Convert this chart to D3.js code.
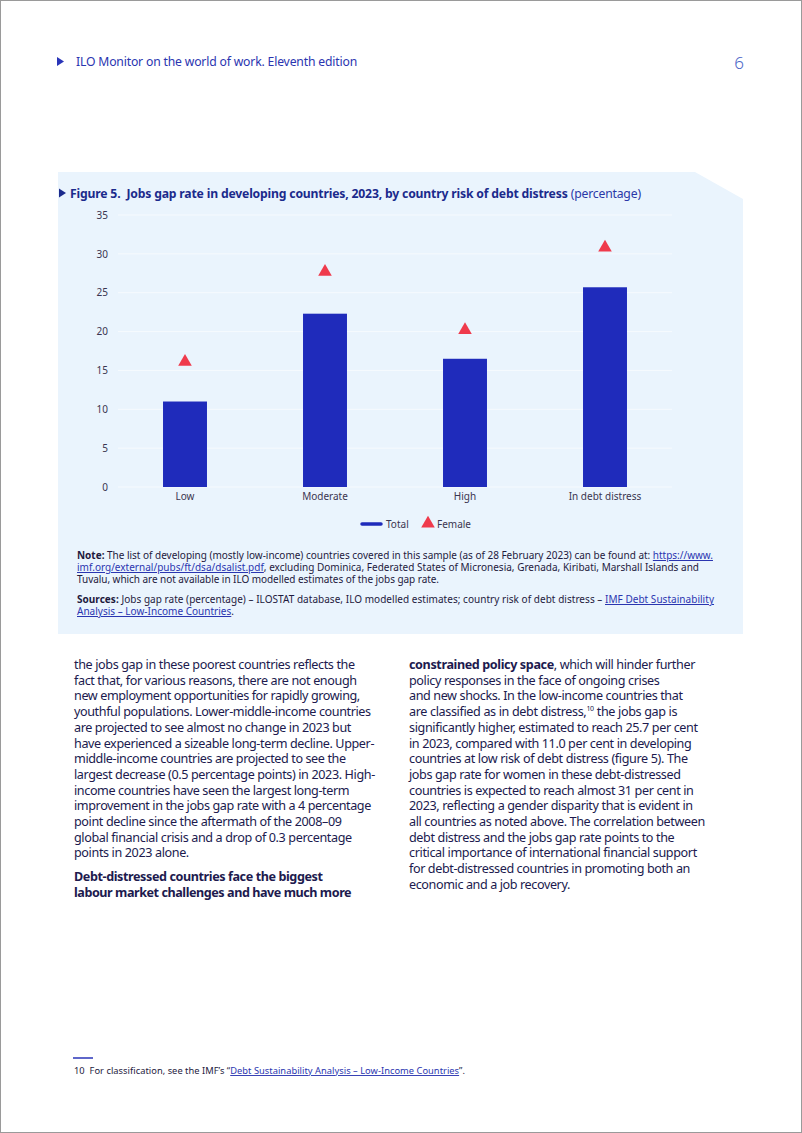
<!DOCTYPE html>
<html><head><meta charset="utf-8">
<script src="https://cdn.jsdelivr.net/npm/d3@7/dist/d3.min.js"></script>
<style>
html,body{margin:0;padding:0;background:#fff;}
svg{display:block;}
text{font-family:"Noto Sans",sans-serif;}
</style></head>
<body>
<svg id="page" width="802" height="1133"></svg>
<script>
const categories = ["Low", "Moderate", "High", "In debt distress"];
const totalValues = [11.0, 22.3, 16.5, 25.7];
const femaleValues = [16.1, 27.7, 20.2, 30.8];
const yTicks = [0, 5, 10, 15, 20, 25, 30, 35];
const legendLabels = ["Total", "Female"];

const svg = d3.select("#page");
const navy = "#1b2a8c", bodyCol = "#201a4e", noteCol = "#1e1a3e", linkCol = "#2a35b0";

// draw a line made of styled parts as separate text elements; the line is tightened
// with letter-spacing so it reaches width w (or a fixed ratio sc of its natural width).
function parts(parent, x0, yy, list, fs, fill, w, sc){
  const els = list.map(p=>{
    const lead = /^\s/.test(p.t);
    const txt = p.t.trim();
    const t = parent.append("text").attr("font-size",p.fs||fs).attr("fill",p.c||fill).text(txt);
    if(p.b) t.attr("font-weight",700);
    if(p.u) t.attr("fill",linkCol).attr("text-decoration","underline");
    return {t, len:txt.length, n:t.node().getComputedTextLength(), gap: lead ? (p.fs||fs)*0.26 : 0, dy:p.dy||0};
  });
  const tot = d3.sum(els, e=>e.n+e.gap);
  const chars = d3.sum(els, e=>e.len);
  const target = w ? w : tot*sc;
  const ls = (target - tot)/chars;
  let cx = x0;
  els.forEach(e=>{
    cx += e.gap*(target/tot);
    e.t.style("letter-spacing", ls+"px").attr("x",cx).attr("y",yy+e.dy);
    cx += e.t.node().getComputedTextLength();
  });
}

// page border
svg.append("rect").attr("x",0.5).attr("y",0.5).attr("width",801).attr("height",1132)
  .attr("fill","#fff").attr("stroke","#9a9a9a").attr("stroke-width",1);

// header
svg.append("path").attr("d","M57,57 L64,61.5 L57,66 Z").attr("fill","#2a35b8");
parts(svg, 76, 66, [{t:"ILO Monitor on the world of work. Eleventh edition"}], 12.2, "#2a35b0", 281);
svg.append("text").attr("x",744).attr("y",69).attr("font-size",17).attr("text-anchor","end")
  .attr("fill","#4d66c8").attr("font-weight",300).text("6");

// panel
svg.append("path").attr("d","M58,172 L695,172 L743,199 L743,634 L58,634 Z").attr("fill","#eaf4fd");

// title
svg.append("path").attr("d","M59,188.5 L66,193 L59,197.5 Z").attr("fill","#1b2a8c");
parts(svg, 70, 198, [
  {t:"Figure 5.\u00a0 Jobs gap rate in developing countries, 2023, by country risk of debt distress", b:1, c:navy},
  {t:" (percentage)", c:"#2a38a8"}], 12.2, navy, 571);

// chart
const x = d3.scaleBand().domain(categories).range([115, 675]).paddingInner(0.686).paddingOuter(0.343);
const y = d3.scaleLinear().domain([0, 35]).range([487, 215]);

svg.append("g").selectAll("line").data(yTicks).join("line")
  .attr("x1",118).attr("x2",672).attr("y1",d=>y(d)).attr("y2",d=>y(d))
  .attr("stroke","#f6fafe").attr("stroke-width",1);

const yAxis = svg.append("g").attr("transform","translate(110,0)")
  .call(d3.axisLeft(y).tickValues(yTicks).tickSize(0).tickPadding(2));
yAxis.select(".domain").remove();
yAxis.selectAll("text").attr("font-size",10).attr("fill","#3a3550").attr("font-family","Noto Sans");

const xAxis = svg.append("g").attr("transform","translate(0,491)")
  .call(d3.axisBottom(x).tickSize(0).tickPadding(2));
xAxis.select(".domain").remove();
xAxis.selectAll("text").attr("font-size",10).attr("fill","#3a3550").attr("font-family","Noto Sans");

svg.append("g").selectAll("rect").data(categories).join("rect")
  .attr("x",d=>x(d)).attr("width",x.bandwidth())
  .attr("y",(d,i)=>y(totalValues[i])).attr("height",(d,i)=>y(0)-y(totalValues[i]))
  .attr("fill","#1f2bbb");

const tri = d3.symbol().type(d3.symbolTriangle).size(80);
svg.append("g").selectAll("path").data(categories).join("path")
  .attr("transform",(d,i)=>`translate(${x(d)+x.bandwidth()/2},${y(femaleValues[i])})`)
  .attr("d",tri).attr("fill","#ef3a4c");

// legend
const lg = svg.append("g");
lg.append("line").attr("x1",362).attr("x2",381).attr("y1",524).attr("y2",524)
  .attr("stroke","#1f2bbb").attr("stroke-width",3.5).attr("stroke-linecap","round");
lg.append("text").attr("x",386).attr("y",527.5).attr("font-size",10).attr("fill","#3a3550").text(legendLabels[0]);
lg.append("path").attr("transform","translate(428,523.5)").attr("d",tri).attr("fill","#ef3a4c");
lg.append("text").attr("x",437).attr("y",527.5).attr("font-size",10).attr("fill","#3a3550").text(legendLabels[1]);

// notes
const nfs = 10;
parts(svg, 77, 559, [{t:"Note:",b:1},{t:" The list of developing (mostly low-income) countries covered in this sample (as of 28 February 2023) can be found at:"},{t:" https://www.",u:1}], nfs, noteCol, 636);
parts(svg, 77, 571, [{t:"imf.org/external/pubs/ft/dsa/dsalist.pdf",u:1},{t:", excluding Dominica, Federated States of Micronesia, Grenada, Kiribati, Marshall Islands and"}], nfs, noteCol, 622);
parts(svg, 77, 583, [{t:"Tuvalu, which are not available in ILO modelled estimates of the jobs gap rate."}], nfs, noteCol, 362);
parts(svg, 77, 603, [{t:"Sources:",b:1},{t:" Jobs gap rate (percentage) \u2013 ILOSTAT database, ILO modelled estimates; country risk of debt distress \u2013"},{t:" IMF Debt Sustainability",u:1}], nfs, noteCol, 637);
parts(svg, 77, 615, [{t:"Analysis \u2013 Low-Income Countries",u:1},{t:"."}], nfs, noteCol, 157);

// body text
const leftLines = [
 "the jobs gap in these poorest countries reflects the",
 "fact that, for various reasons, there are not enough",
 "new employment opportunities for rapidly growing,",
 "youthful populations. Lower-middle-income countries",
 "are projected to see almost no change in 2023 but",
 "have experienced a sizeable long-term decline. Upper-",
 "middle-income countries are projected to see the",
 "largest decrease (0.5 percentage points) in 2023. High-",
 "income countries have seen the largest long-term",
 "improvement in the jobs gap rate with a 4 percentage",
 "point decline since the aftermath of the 2008\u201309",
 "global financial crisis and a drop of 0.3 percentage",
 "points in 2023 alone."
];
const leftBold = ["Debt-distressed countries face the biggest","labour market challenges and have much more"];
const rightLines = [
 "policy responses in the face of ongoing crises",
 "and new shocks. In the low-income countries that",
 "are classified as in debt distress,",
 "significantly higher, estimated to reach 25.7 per cent",
 "in 2023, compared with 11.0 per cent in developing",
 "countries at low risk of debt distress (figure 5). The",
 "jobs gap rate for women in these debt-distressed",
 "countries is expected to reach almost 31 per cent in",
 "2023, reflecting a gender disparity that is evident in",
 "all countries as noted above. The correlation between",
 "debt distress and the jobs gap rate points to the",
 "critical importance of international financial support",
 "for debt-distressed countries in promoting both an",
 "economic and a job recovery."
];
const fs = 12.6, lh = 15.7, sx = 0.935;
const bodyG = svg.append("g");
leftLines.forEach((l,i)=>parts(bodyG, 74, 669+i*lh, [{t:l}], fs, bodyCol, null, sx));
leftBold.forEach((l,i)=>parts(bodyG, 74, 881+i*lh, [{t:l,b:1}], fs, bodyCol, null, sx));
parts(bodyG, 409, 669, [{t:"constrained policy space",b:1},{t:", which will hinder further"}], fs, bodyCol, null, sx);
rightLines.forEach((l,i)=>{
  const yy = 669+(i+1)*lh;
  if(i===2) parts(bodyG, 409, yy, [{t:l},{t:"10",fs:7,dy:-5},{t:" the jobs gap is"}], fs, bodyCol, null, sx);
  else parts(bodyG, 409, yy, [{t:l}], fs, bodyCol, null, sx);
});

// footnote
svg.append("line").attr("x1",73).attr("x2",93).attr("y1",1058).attr("y2",1058).attr("stroke","#2a35b8").attr("stroke-width",1.5);
parts(svg, 74, 1074, [{t:"10\u00a0 For classification, see the IMF\u2019s \u201c"},
  {t:"Debt Sustainability Analysis \u2013 Low-Income Countries",u:1},{t:"\u201d."}], 9.3, noteCol, 391);
</script>
</body></html>
